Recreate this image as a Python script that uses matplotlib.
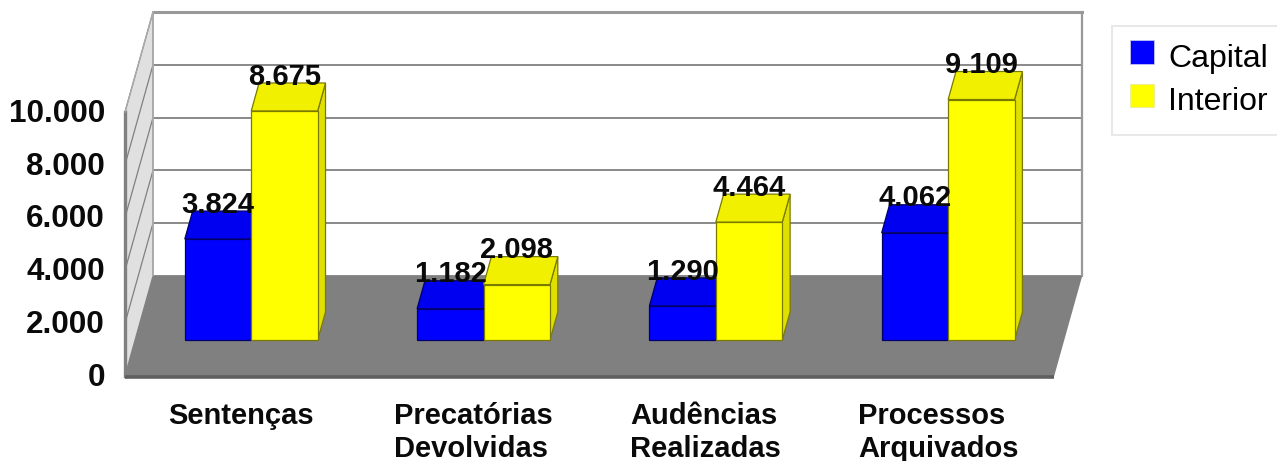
import matplotlib
matplotlib.use('Agg')
import matplotlib.pyplot as plt
from matplotlib.patches import Patch

# dados do grafico
categorias = ['Sentenças', 'Precatórias\nDevolvidas', 'Audências\nRealizadas', 'Processos\nArquivados']
capital = [3824, 1182, 1290, 4062]
interior = [8675, 2098, 4464, 9109]
rotulos_capital = ['3.824', '1.182', '1.290', '4.062']
rotulos_interior = ['8.675', '2.098', '4.464', '9.109']
ticks = [0, 2000, 4000, 6000, 8000, 10000]
tick_labels = ['0', '2.000', '4.000', '6.000', '8.000', '10.000']

# escala: pixels por unidade
W, H = 1277, 461
PX_CAT = 232.3
PX_VAL = 26.4 / 1000
X0, Y0 = 125, 376

# deslocamento da profundidade (falso 3D)
DX = 28 / PX_CAT
DY = 100 / PX_VAL
D1, D2 = 0.36, 0.64
LARG = 0.286

plt.rcParams['font.family'] = ['Liberation Sans', 'DejaVu Sans']

fig = plt.figure(figsize=(W / 100, H / 100), dpi=100)
ax = fig.add_axes([0, 0, 1, 1])
ax.set_xlim(-X0 / PX_CAT, (W - X0) / PX_CAT)
ax.set_ylim(-(H - Y0) / PX_VAL, Y0 / PX_VAL)
ax.axis('off')

n = len(categorias)
topo = ticks[-1]
GRID = '#808080'

# parede do fundo e parede esquerda
ax.fill([DX, n + DX, n + DX, DX], [DY, DY, topo + DY, topo + DY], fc='white', ec='none', zorder=1)
ax.fill([0, DX, DX, 0], [0, DY, topo + DY, topo], fc='#e0e0e0', ec='none', zorder=1)
for t in ticks:
    ax.plot([DX, n + DX], [t + DY, t + DY], color=GRID, lw=1.3, zorder=2)
    ax.plot([0, DX], [t, t + DY], color=GRID, lw=0.9, zorder=2)
ax.plot([DX, n + DX], [topo + DY, topo + DY], color='#999999', lw=2.2, zorder=2)
ax.plot([DX, DX], [DY, topo + DY], color='#aaaaaa', lw=1.4, zorder=2)
ax.plot([n + DX, n + DX], [DY, topo + DY], color='#999999', lw=1.6, zorder=2)
ax.plot([0, 0], [0, topo], color='#808080', lw=2.4, zorder=2)
ax.plot([0, DX], [topo, topo + DY], color='#aaaaaa', lw=1, zorder=2)

# chao
ax.fill([0, n, n + DX, DX], [0, 0, DY, DY], fc='#808080', ec='none', zorder=3)
ax.plot([0, n], [-30, -30], color='#5f5f5f', lw=2.6, zorder=3, solid_capstyle='butt')


def barra(x, valor, cor, cor_topo, cor_lado, cor_borda, z):
    base = D1 * DY
    xf = x + D1 * DX
    esq, dir_ = xf - LARG / 2, xf + LARG / 2
    dx = (D2 - D1) * DX
    dy = (D2 - D1) * DY
    ax.fill([dir_, dir_ + dx, dir_ + dx, dir_], [base, base + dy, base + valor + dy, base + valor],
            fc=cor_lado, ec=cor_borda, lw=0.9, zorder=z)
    ax.fill([esq, dir_, dir_ + dx, esq + dx], [base + valor, base + valor, base + valor + dy, base + valor + dy],
            fc=cor_topo, ec=cor_borda, lw=0.9, zorder=z)
    ax.bar(xf, valor, LARG, bottom=base, color=cor, edgecolor=cor_borda, linewidth=0.9, zorder=z)


for i in range(n):
    c = i + 0.5
    barra(c - LARG / 2, capital[i], '#0000ff', '#0000f0', '#0000c0', '#00006a', 4 + i * 0.1)
    barra(c + LARG / 2, interior[i], '#ffff00', '#f0f000', '#e0e000', '#7a7a00', 4.05 + i * 0.1)

# rotulos dos valores
for i in range(n):
    c = i + 0.5 + D1 * DX
    for x, v, s in [(c - LARG / 2, capital[i], rotulos_capital[i]), (c + LARG / 2, interior[i], rotulos_interior[i])]:
        ax.text(x, D2 * DY + v + 240, s, ha='center', va='center', fontsize=21, fontweight='bold',
                color='#0a0a0a', zorder=8)

# eixo y
for t, s in zip(ticks, tick_labels):
    ax.text(-20 / PX_CAT, t - 70, s, ha='right', va='center', fontsize=22.6, fontweight='bold', color='#0a0a0a')

# eixo x
for i, s in enumerate(categorias):
    ax.text(i + 0.5, -1000, s, ha='center', va='top', multialignment='left', fontsize=21,
            fontweight='bold', color='#0a0a0a', linespacing=1.2)

leg = ax.legend(handles=[Patch(fc='#0000ff', ec='#d0d0f0', lw=0.5, label='Capital'),
                         Patch(fc='#ffff00', ec='#e8e8a0', lw=0.5, label='Interior')],
                loc='upper left', bbox_to_anchor=(1112 / W, 1 - 26 / H), bbox_transform=fig.transFigure,
                fontsize=23, frameon=True, fancybox=False, framealpha=1, edgecolor='#e8e8e8',
                borderaxespad=0, borderpad=0.55, handlelength=0.78, handleheight=0.75,
                handletextpad=0.42, labelspacing=0.42)
leg.get_frame().set_linewidth(1.5)
leg.set_zorder(10)
# sobe um pouco os quadradinhos da legenda
for h in leg.get_patches():
    h.set_y(h.get_y() + 2.4)

fig.savefig('out.png', dpi=100)
